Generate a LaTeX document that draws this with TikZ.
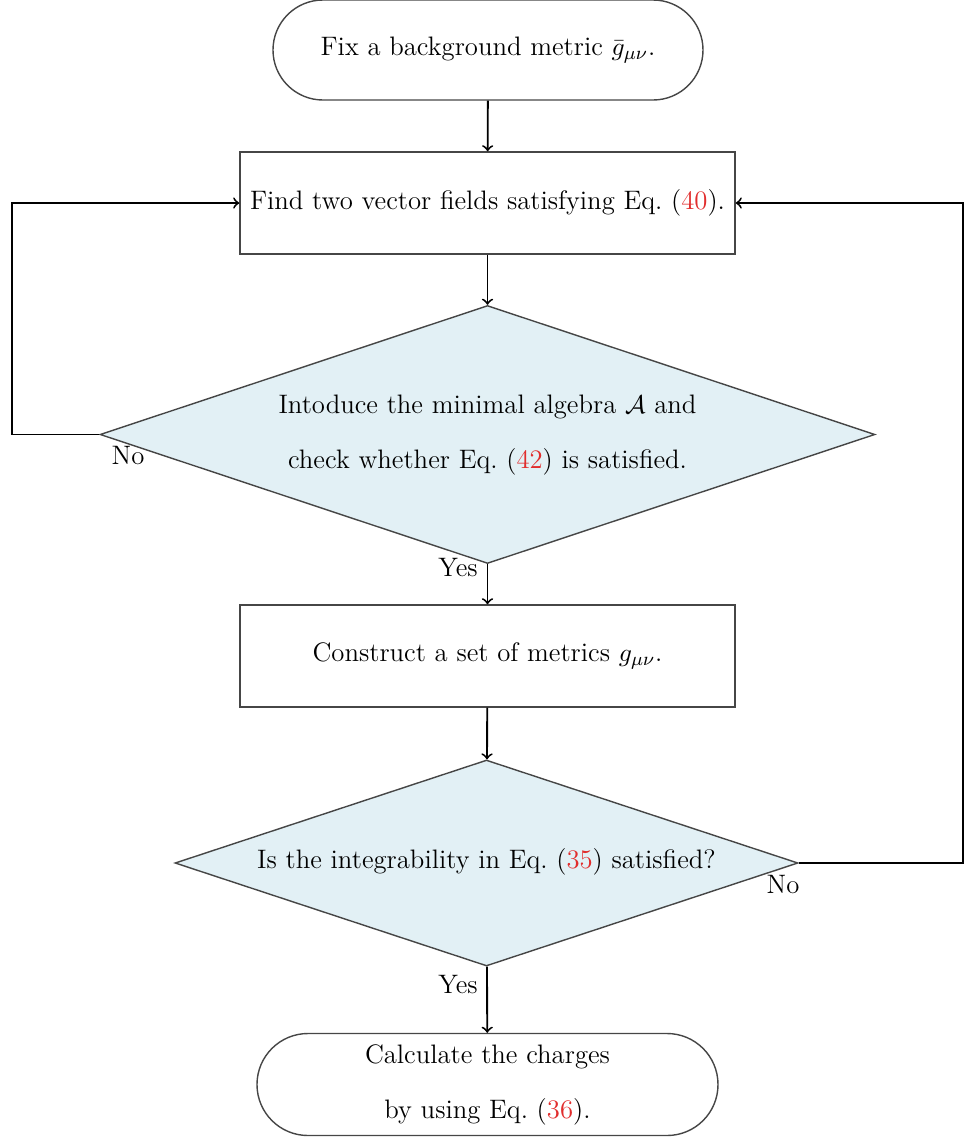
\documentclass[tikz,border=0pt]{standalone}
\usetikzlibrary{shapes.geometric}
\definecolor{dfill}{RGB}{226,240,245}
\definecolor{eqred}{RGB}{225,45,45}
\definecolor{edge}{RGB}{70,70,70}
\newcommand{\eqr}[1]{(\textcolor{eqred}{#1})}
\begin{document}
\begin{tikzpicture}[x=0.015cm,y=-0.015cm,
  txt/.style={font=\fontsize{11.4}{23.5}\selectfont, align=center, inner sep=0pt},
  term/.style={draw=edge, line width=0.6pt, rounded corners=0.75cm, inner sep=0pt, font=\fontsize{11.4}{23.5}\selectfont, align=center},
  procbox/.style={draw=edge, line width=0.6pt, inner sep=0pt, minimum width=7.425cm, minimum height=1.53cm, font=\fontsize{11.4}{23.5}\selectfont},
  decis/.style={diamond, draw=edge, fill=dfill, line width=0.6pt, inner sep=0pt},
  arr/.style={->, line width=0.8pt, black},
  lab/.style={font=\fontsize{11.4}{13}\selectfont, inner sep=0pt}
]
\useasboundingbox (0,0) rectangle (969,1137);

\node[term, minimum width=6.45cm, minimum height=1.5cm] (t1) at (488,50) {Fix a background metric $\bar g_{\mu\nu}$.};

\node[procbox] (b1) at (487.5,203) {Find two vector fields satisfying Eq.~\eqr{40}.};

\node[decis, minimum width=11.625cm, minimum height=3.87cm] (d1) at (487.5,434.5) {};
\node[txt] (d1t) at (487.5,435) {Intoduce the minimal algebra $\mathcal{A}$ and\\check whether Eq.~\eqr{42} is satisfied.};

\node[procbox] (b2) at (487.5,656) {Construct a set of metrics $g_{\mu\nu}$.};

\node[decis, minimum width=9.345cm, minimum height=3.09cm] (d2) at (486.5,863) {};
\node[txt] (d2t) at (486.5,862) {Is the integrability in Eq.~\eqr{35} satisfied?};

\node[term, rounded corners=0.765cm, minimum width=6.915cm, minimum height=1.53cm] (t2) at (487.5,1084.5) {Calculate the charges\\by using Eq.~\eqr{36}.};

\draw[arr] (t1) -- (b1);
\draw[arr] (b1) -- (d1);
\draw[arr] (d1) -- (b2);
\draw[arr] (b2) -- (d2);
\draw[arr] (d2) -- (t2);

\coordinate (L1) at (12,434.5);
\coordinate (R1) at (963,863);
\draw[arr] (d1.west) -- (L1) |- (b1.west);
\draw[arr] (d2.east) -- (R1) |- (b1.east);

\node[lab] (no1) at (128,456) {No};
\node[lab] (yes1) at (458,568) {Yes};
\node[lab] (no2) at (783,884) {No};
\node[lab] (yes2) at (458,984) {Yes};
\end{tikzpicture}
\end{document}
